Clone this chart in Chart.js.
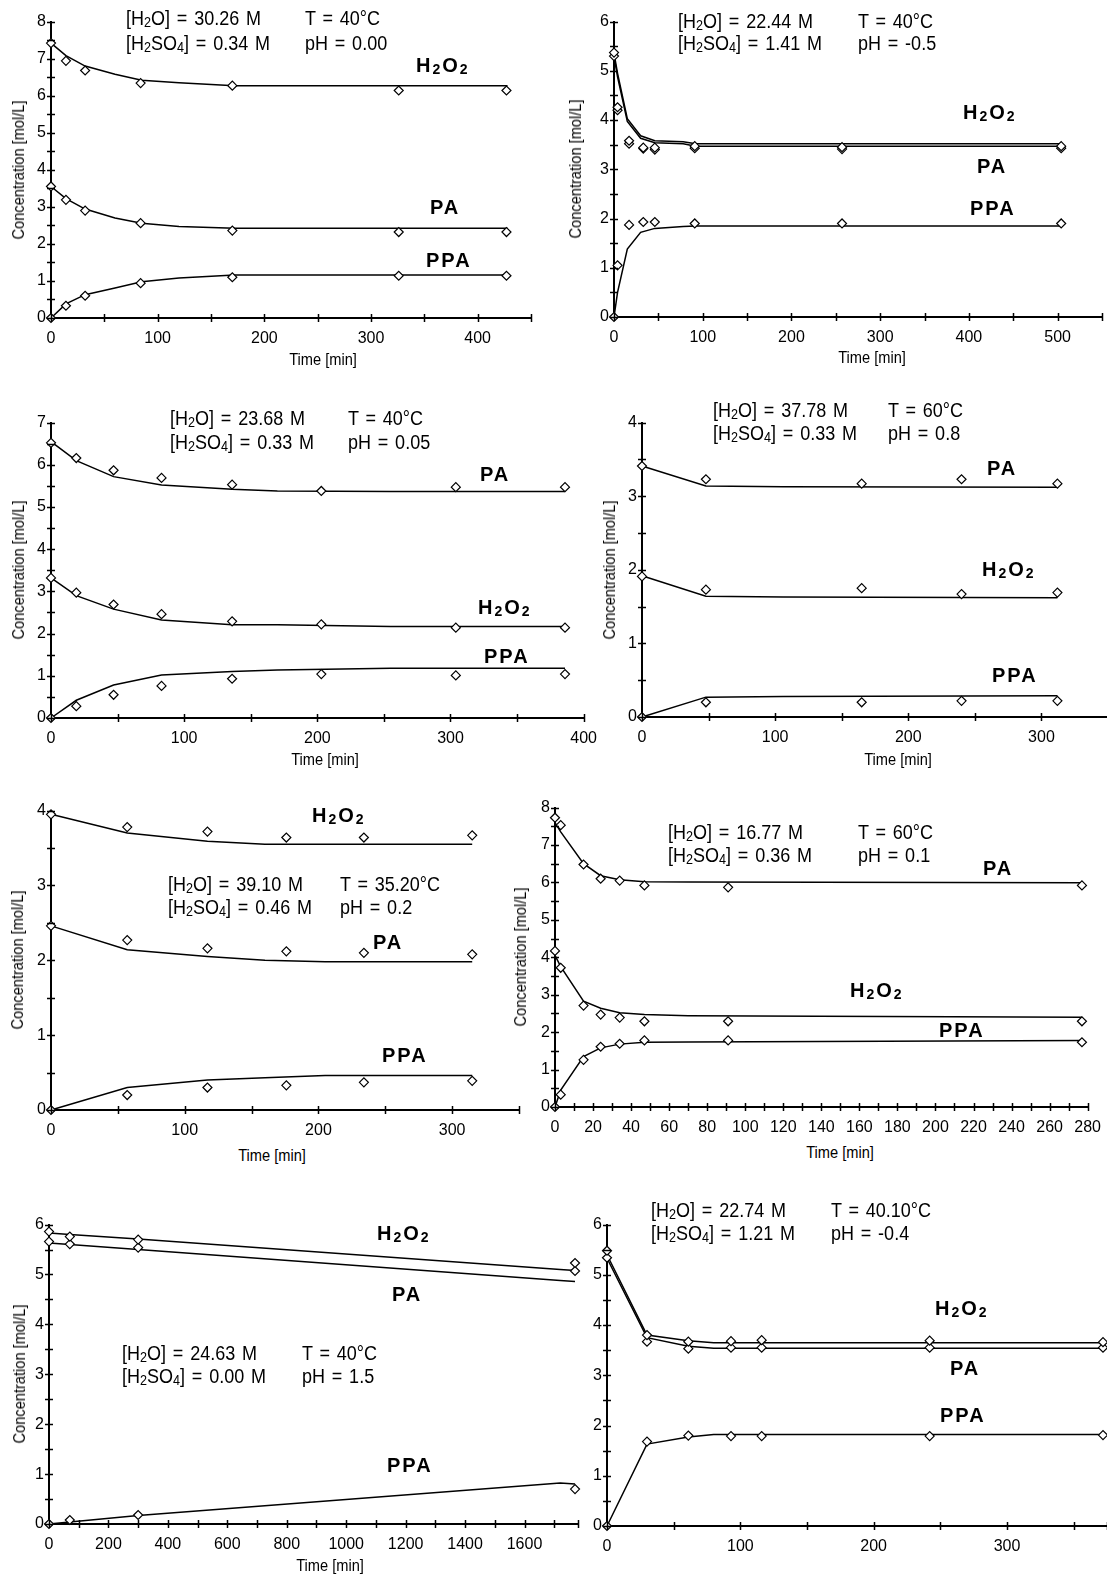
<!DOCTYPE html>
<html>
<head>
<meta charset="utf-8">
<script src="https://cdn.jsdelivr.net/npm/chart.js@4.4.0/dist/chart.umd.min.js"></script>
<style>
  html, body { margin: 0; padding: 0; background: #fff; }
  body { position: relative; width: 1107px; height: 1577px; overflow: hidden; }
  canvas { position: absolute; }
  .txt { position: absolute; white-space: nowrap; line-height: 1; color: #000; transform: translateY(-50%); }
  .cond { font: 20px 'Liberation Sans', Arial, sans-serif; word-spacing: 2px; transform-origin: left center; transform: translateY(-50%) scaleX(0.9); }
  .tag { font: bold 20px 'Liberation Sans', Arial, sans-serif; letter-spacing: 2px; }
  .axt { font: 17px 'Liberation Sans', Arial, sans-serif; }
  .rot { transform: translate(-50%, -50%) rotate(-90deg) scaleX(0.86); }
  .ctr { transform: translate(-50%, -50%) scaleX(0.86); }
  sub { font-size: 70%; vertical-align: -0.2em; line-height: 0; }
</style>
</head>
<body>
<script>
// condizioni sperimentali per ogni pannello
const waterConc = ['30.26', '22.44', '23.68', '37.78', '39.10', '16.77', '24.63', '22.74'];
const acidConc = ['0.34', '1.41', '0.33', '0.33', '0.46', '0.36', '0.00', '1.21'];
const temps = ['40', '40', '40', '60', '35.20', '60', '40', '40.10'];
const phValues = ['0.00', '-0.5', '0.05', '0.8', '0.2', '0.1', '1.5', '-0.4'];
const speciesHtml = ['H<sub>2</sub>O<sub>2</sub>', 'PA', 'PPA'];

// pannello 1
const p1Time = [0, 14, 32, 84, 170, 326, 427];
const p1H2O2 = [7.42, 6.94, 6.68, 6.34, 6.27, 6.14, 6.14];
const p1PA = [3.55, 3.19, 2.9, 2.56, 2.36, 2.32, 2.32];
const p1PPA = [0, 0.33, 0.6, 0.94, 1.1, 1.14, 1.14];
const p1FitTime = [0, 14, 32, 60, 85, 120, 172, 428];
const p1H2O2Fit = [7.42, 7.08, 6.8, 6.58, 6.42, 6.35, 6.27, 6.27];
const p1PAFit = [3.55, 3.22, 2.94, 2.7, 2.56, 2.47, 2.42, 2.42];
const p1PPAFit = [0, 0.38, 0.63, 0.81, 0.98, 1.08, 1.16, 1.16];

// pannello 2
const p2Time = [0, 4, 17, 33, 46, 91, 257, 504];
const p2H2O2 = [5.37, 4.26, 3.58, 3.44, 3.44, 3.47, 3.45, 3.47];
const p2PA = [5.3, 4.2, 3.52, 3.42, 3.4, 3.43, 3.41, 3.43];
const p2PPA = [0, 1.05, 1.87, 1.93, 1.93, 1.9, 1.9, 1.9];
const p2FitTime = [0, 4, 15, 30, 46, 78, 92, 504];
const p2H2O2Fit = [5.36, 4.95, 4.03, 3.68, 3.58, 3.56, 3.52, 3.52];
const p2PAFit = [5.3, 4.88, 3.97, 3.63, 3.54, 3.52, 3.47, 3.47];
const p2PPAFit = [0, 0.5, 1.38, 1.72, 1.8, 1.84, 1.85, 1.85];

// pannello 3
const p3Time = [0, 19, 47, 83, 136, 203, 304, 386];
const p3H2O2 = [3.32, 2.97, 2.69, 2.46, 2.29, 2.22, 2.14, 2.14];
const p3PA = [6.52, 6.16, 5.87, 5.69, 5.53, 5.38, 5.47, 5.47];
const p3PPA = [0, 0.28, 0.55, 0.76, 0.93, 1.04, 1.01, 1.04];
const p3FitTime = [0, 19, 47, 83, 136, 170, 255, 386];
const p3H2O2Fit = [3.32, 2.9, 2.58, 2.32, 2.21, 2.21, 2.17, 2.17];
const p3PAFit = [6.55, 6.1, 5.72, 5.52, 5.42, 5.38, 5.37, 5.37];
const p3PPAFit = [0, 0.42, 0.78, 1.02, 1.1, 1.14, 1.18, 1.18];

// pannello 4
const p4Time = [0, 48, 165, 240, 312];
const p4H2O2 = [1.91, 1.73, 1.75, 1.67, 1.69];
const p4PA = [3.41, 3.23, 3.17, 3.23, 3.17];
const p4PPA = [0, 0.2, 0.2, 0.22, 0.22];
const p4FitTime = [0, 48, 106, 312];
const p4H2O2Fit = [1.92, 1.64, 1.63, 1.62];
const p4PAFit = [3.41, 3.14, 3.13, 3.12];
const p4PPAFit = [0, 0.27, 0.28, 0.29];

// pannello 5
const p5Time = [0, 57, 117, 176, 234, 315];
const p5H2O2 = [3.95, 3.78, 3.72, 3.64, 3.64, 3.67];
const p5PA = [2.46, 2.27, 2.16, 2.12, 2.1, 2.08];
const p5PPA = [0, 0.2, 0.3, 0.33, 0.37, 0.39];
const p5FitTime = [0, 57, 117, 160, 205, 315];
const p5H2O2Fit = [3.95, 3.7, 3.59, 3.55, 3.55, 3.55];
const p5PAFit = [2.46, 2.14, 2.05, 2.0, 1.98, 1.98];
const p5PPAFit = [0, 0.3, 0.4, 0.43, 0.46, 0.46];

// pannello 6
const p6Time = [0, 3, 15, 24, 34, 47, 91, 277];
const p6H2O2 = [4.17, 3.72, 2.71, 2.47, 2.39, 2.29, 2.29, 2.29];
const p6PA = [7.73, 7.53, 6.48, 6.1, 6.05, 5.92, 5.87, 5.92];
const p6PPA = [0, 0.33, 1.26, 1.61, 1.69, 1.78, 1.78, 1.73];
const p6FitTime = [0, 3, 15, 24, 34, 47, 70, 277];
const p6H2O2Fit = [4.05, 3.75, 2.83, 2.64, 2.52, 2.47, 2.44, 2.4];
const p6PAFit = [7.6, 7.35, 6.5, 6.18, 6.07, 6.02, 6.01, 5.99];
const p6PPAFit = [0, 0.45, 1.35, 1.58, 1.68, 1.73, 1.74, 1.78];

// pannello 7
const p7Time = [0, 70, 300, 1770];
const p7H2O2 = [5.86, 5.76, 5.7, 5.23];
const p7PA = [5.66, 5.61, 5.54, 5.07];
const p7PPA = [0, 0.08, 0.18, 0.7];
const p7FitTime = [0, 70, 300, 1720, 1770];
const p7H2O2Fit = [5.83, 5.8, 5.71, 5.1, 5.08];
const p7PAFit = [5.63, 5.6, 5.5, 4.88, 4.86];
const p7PPAFit = [0, 0.04, 0.17, 0.82, 0.8];

// pannello 8
const p8Time = [0, 30, 61, 93, 116, 242, 372];
const p8H2O2 = [5.48, 3.8, 3.67, 3.68, 3.7, 3.69, 3.66];
const p8PA = [5.34, 3.67, 3.53, 3.55, 3.55, 3.55, 3.55];
const p8PPA = [0, 1.68, 1.8, 1.79, 1.79, 1.79, 1.81];
const p8FitTime = [0, 30, 61, 80, 372];
const p8H2O2Fit = [5.4, 3.8, 3.69, 3.65, 3.65];
const p8PAFit = [5.33, 3.75, 3.58, 3.54, 3.54];
const p8PPAFit = [0, 1.63, 1.77, 1.82, 1.82];

// posizione e scale di ogni pannello (pixel della pagina)
const panels = [
  { time: p1Time, fitTime: p1FitTime, pts: [p1H2O2, p1PA, p1PPA], fits: [p1H2O2Fit, p1PAFit, p1PPAFit],
    xMax: 450, xStep: 50, xLabelStep: 100, yMax: 8,
    x0: 51, xEnd: 531, yTop: 21, yBot: 318,
    cond: [126, 305, 18, 43], tags: [[416, 65], [430, 207], [426, 260]], xTitle: [323, 360], yTitleX: 19 },
  { time: p2Time, fitTime: p2FitTime, pts: [p2H2O2, p2PA, p2PPA], fits: [p2H2O2Fit, p2PAFit, p2PPAFit],
    xMax: 550, xStep: 50, xLabelStep: 100, yMax: 6,
    x0: 614, xEnd: 1102, yTop: 21, yBot: 317,
    cond: [678, 858, 21, 43], tags: [[963, 112], [977, 166], [970, 208]], xTitle: [872, 358], yTitleX: 576 },
  { time: p3Time, fitTime: p3FitTime, pts: [p3H2O2, p3PA, p3PPA], fits: [p3H2O2Fit, p3PAFit, p3PPAFit],
    xMax: 400, xStep: 50, xLabelStep: 100, yMax: 7,
    x0: 51, xEnd: 584, yTop: 422, yBot: 718,
    cond: [170, 348, 418, 442], tags: [[478, 607], [480, 474], [484, 656]], xTitle: [325, 760], yTitleX: 19 },
  { time: p4Time, fitTime: p4FitTime, pts: [p4H2O2, p4PA, p4PPA], fits: [p4H2O2Fit, p4PAFit, p4PPAFit],
    xMax: 350, xStep: 50, xLabelStep: 100, yMax: 4,
    x0: 642, xEnd: 1108, yTop: 422, yBot: 717,
    cond: [713, 888, 410, 433], tags: [[982, 569], [987, 468], [992, 675]], xTitle: [898, 760], yTitleX: 610 },
  { time: p5Time, fitTime: p5FitTime, pts: [p5H2O2, p5PA, p5PPA], fits: [p5H2O2Fit, p5PAFit, p5PPAFit],
    xMax: 350, xStep: 50, xLabelStep: 100, yMax: 4,
    x0: 51, xEnd: 519, yTop: 810, yBot: 1110,
    cond: [168, 340, 884, 907], tags: [[312, 815], [373, 942], [382, 1055]], xTitle: [272, 1156], yTitleX: 18 },
  { time: p6Time, fitTime: p6FitTime, pts: [p6H2O2, p6PA, p6PPA], fits: [p6H2O2Fit, p6PAFit, p6PPAFit],
    xMax: 280, xStep: 10, xLabelStep: 20, yMax: 8,
    x0: 555, xEnd: 1088, yTop: 807, yBot: 1107,
    cond: [668, 858, 832, 855], tags: [[850, 990], [983, 868], [939, 1030]], xTitle: [840, 1153], yTitleX: 521 },
  { time: p7Time, fitTime: p7FitTime, pts: [p7H2O2, p7PA, p7PPA], fits: [p7H2O2Fit, p7PAFit, p7PPAFit],
    xMax: 1780, xStep: 100, xLabelStep: 200, yMax: 6,
    x0: 49, xEnd: 578, yTop: 1224, yBot: 1524,
    cond: [122, 302, 1353, 1376], tags: [[377, 1233], [392, 1294], [387, 1465]], xTitle: [330, 1566], yTitleX: 20 },
  { time: p8Time, fitTime: p8FitTime, pts: [p8H2O2, p8PA, p8PPA], fits: [p8H2O2Fit, p8PAFit, p8PPAFit],
    xMax: 375, xStep: 50, xLabelStep: 100, yMax: 6,
    x0: 607, xEnd: 1107, yTop: 1224, yBot: 1526,
    cond: [651, 831, 1210, 1233], tags: [[935, 1308], [950, 1368], [940, 1415]], xTitle: null, yTitleX: null }
];

Chart.defaults.font.family = "'Liberation Sans', Arial, sans-serif";
Chart.defaults.color = '#000';

// tacche che attraversano gli assi, come nell'originale
const crossTicks = {
  id: 'crossTicks',
  afterDraw(chart) {
    const { ctx, scales: { x, y } } = chart;
    ctx.save();
    ctx.strokeStyle = '#000';
    ctx.lineWidth = 1.5;
    ctx.beginPath();
    x.ticks.forEach(t => {
      const px = Math.round(x.getPixelForValue(t.value)) + 0.5;
      ctx.moveTo(px, x.top - 4);
      ctx.lineTo(px, x.top + 4);
    });
    y.ticks.forEach(t => {
      const py = Math.round(y.getPixelForValue(t.value)) + 0.5;
      ctx.moveTo(y.right - 4, py);
      ctx.lineTo(y.right + 4, py);
    });
    ctx.stroke();
    ctx.restore();
  }
};

function tickValues(max, step) {
  const out = [];
  for (let v = 0; v <= max + 1e-9; v += step) out.push(Math.round(v * 100) / 100);
  if (out[out.length - 1] < max) out.push(max);
  return out.map(v => ({ value: v }));
}

function addText(cls, html, left, top) {
  const d = document.createElement('div');
  d.className = 'txt ' + cls;
  d.innerHTML = html;
  d.style.left = left + 'px';
  d.style.top = top + 'px';
  document.body.appendChild(d);
}

function makePanel(p, i) {
  const yAxisW = 40, padTop = 14, padRight = 24, xAxisH = 36;
  const cv = document.createElement('canvas');
  cv.width = yAxisW + (p.xEnd - p.x0) + padRight;
  cv.height = padTop + (p.yBot - p.yTop) + xAxisH;
  cv.style.left = (p.x0 - yAxisW) + 'px';
  cv.style.top = (p.yTop - padTop) + 'px';
  document.body.appendChild(cv);

  const datasets = [];
  p.pts.forEach((vals, k) => {
    datasets.push({
      data: p.time.map((t, j) => ({ x: t, y: vals[j] })),
      showLine: false, pointStyle: 'rectRot', pointRadius: 4.5,
      pointBackgroundColor: '#fff', pointBorderColor: '#000', pointBorderWidth: 1.2,
      order: 0, clip: false
    });
    datasets.push({
      data: p.fitTime.map((t, j) => ({ x: t, y: p.fits[k][j] })),
      showLine: true, borderColor: '#000', borderWidth: 1.5, pointRadius: 0,
      tension: 0, order: 1, clip: false
    });
  });

  new Chart(cv, {
    type: 'scatter',
    data: { datasets },
    options: {
      responsive: false, animation: false, devicePixelRatio: 1,
      layout: { padding: { top: padTop, right: padRight, left: 0, bottom: 0 } },
      plugins: { legend: { display: false }, tooltip: { enabled: false } },
      scales: {
        x: {
          type: 'linear', min: 0, max: p.xMax,
          afterBuildTicks: ax => { ax.ticks = tickValues(p.xMax, p.xStep); },
          afterFit: ax => { ax.height = xAxisH; },
          grid: { display: false, drawTicks: false },
          border: { display: true, color: '#000', width: 2 },
          ticks: { autoSkip: false, maxRotation: 0, padding: 11, font: { size: 16 },
                   callback: v => (Math.abs(v % p.xLabelStep) < 1e-9 ? v : '') }
        },
        y: {
          min: 0, max: p.yMax,
          afterBuildTicks: ax => { ax.ticks = tickValues(p.yMax, 0.5); },
          afterFit: ax => { ax.width = yAxisW; },
          grid: { display: false, drawTicks: false },
          border: { display: true, color: '#000', width: 2 },
          ticks: { autoSkip: false, padding: 5, font: { size: 16 },
                   callback: v => (Number.isInteger(v) ? v : '') }
        }
      }
    },
    plugins: [crossTicks]
  });

  // condizioni sperimentali
  const [cx, tx, y1, y2] = p.cond;
  addText('cond', '[H<sub>2</sub>O] = ' + waterConc[i] + ' M', cx, y1);
  addText('cond', 'T = ' + temps[i] + '°C', tx, y1);
  addText('cond', '[H<sub>2</sub>SO<sub>4</sub>] = ' + acidConc[i] + ' M', cx, y2);
  addText('cond', 'pH = ' + phValues[i], tx, y2);

  // etichette delle specie
  p.tags.forEach((pos, k) => addText('tag', speciesHtml[k], pos[0], pos[1]));

  // titoli degli assi
  if (p.xTitle) addText('axt ctr', 'Time [min]', p.xTitle[0], p.xTitle[1]);
  if (p.yTitleX !== null) addText('axt rot', 'Concentration [mol/L]', p.yTitleX, (p.yTop + p.yBot) / 2);
}

panels.forEach(makePanel);
</script>
</body>
</html>
